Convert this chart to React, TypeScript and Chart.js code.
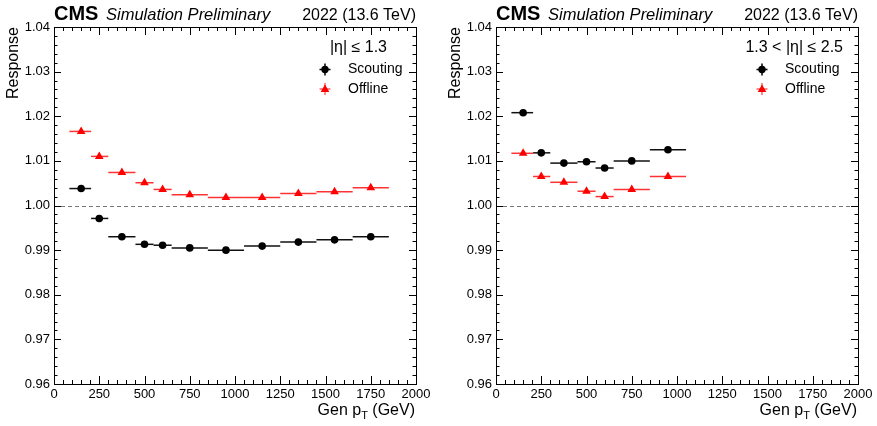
import React, { useEffect, useRef } from 'react';
import { Chart, registerables } from 'chart.js';

Chart.register(...registerables);

const FONT = "'Liberation Sans', Arial, Helvetica, sans-serif";

const X_TICKS = [0, 250, 500, 750, 1000, 1250, 1500, 1750, 2000];
const Y_TICKS = [0.96, 0.97, 0.98, 0.99, 1.0, 1.01, 1.02, 1.03, 1.04];

// Left panel: |eta| <= 1.3
const BARREL_PT = [150, 250, 375, 500, 600, 750, 950, 1150, 1350, 1550, 1750];
const BARREL_LO = [85, 205, 300, 450, 550, 650, 850, 1050, 1250, 1450, 1650];
const BARREL_HI = [205, 300, 450, 550, 650, 850, 1050, 1250, 1450, 1650, 1850];
const BARREL_SCOUTING = [1.0038, 0.9971, 0.993, 0.9913, 0.9911, 0.9905, 0.99, 0.9909, 0.9918, 0.9923, 0.993];
const BARREL_OFFLINE = [1.0166, 1.011, 1.0074, 1.0051, 1.0036, 1.0024, 1.0018, 1.0018, 1.0027, 1.0031, 1.004];

// Right panel: 1.3 < |eta| <= 2.5
const ENDCAP_PT = [150, 250, 375, 500, 600, 750, 950];
const ENDCAP_LO = [85, 205, 300, 450, 550, 650, 850];
const ENDCAP_HI = [205, 300, 450, 550, 650, 850, 1050];
const ENDCAP_SCOUTING = [1.0208, 1.0118, 1.0095, 1.0098, 1.0084, 1.01, 1.0125];
const ENDCAP_OFFLINE = [1.0117, 1.0065, 1.0052, 1.0032, 1.002, 1.0036, 1.0065];

const SERIES_NAMES = ['Scouting', 'Offline'];

type PanelCfg = {
  left: number;
  width: number;
  areaLeft: number;
  areaRight: number;
  eta: string;
  etaRight: number;
  markerX: number;
  textX: number;
  pt: number[];
  lo: number[];
  hi: number[];
  scouting: number[];
  offline: number[];
};

const PANELS: PanelCfg[] = [
  {
    left: 0, width: 438, areaLeft: 54, areaRight: 416,
    eta: '|\u03B7| \u2264 1.3', etaRight: 387, markerX: 325, textX: 348,
    pt: BARREL_PT, lo: BARREL_LO, hi: BARREL_HI, scouting: BARREL_SCOUTING, offline: BARREL_OFFLINE,
  },
  {
    left: 438, width: 439, areaLeft: 58, areaRight: 420,
    eta: '1.3 < |\u03B7| \u2264 2.5', etaRight: 405, markerX: 324, textX: 347,
    pt: ENDCAP_PT, lo: ENDCAP_LO, hi: ENDCAP_HI, scouting: ENDCAP_SCOUTING, offline: ENDCAP_OFFLINE,
  },
];

const TOP = 27;
const BOTTOM = 384;
const H = 426;

function drawTriangle(ctx: CanvasRenderingContext2D, x: number, y: number, r: number) {
  ctx.beginPath();
  for (let k = 0; k < 3; k++) {
    const a = (k * 2 * Math.PI) / 3;
    const px = x + Math.sin(a) * r;
    const py = y - Math.cos(a) * r;
    if (k === 0) ctx.moveTo(px, py);
    else ctx.lineTo(px, py);
  }
  ctx.closePath();
  ctx.fill();
}

function makePlugin(cfg: PanelCfg) {
  return {
    id: 'cmsDecor',
    beforeDatasetsDraw(chart: any) {
      const ctx: CanvasRenderingContext2D = chart.ctx;
      const xs = chart.scales.x;
      const ys = chart.scales.y;
      const area = chart.chartArea;
      ctx.save();
      ctx.strokeStyle = '#777';
      ctx.lineWidth = 1;
      ctx.setLineDash([4, 3]);
      const yr = Math.round(ys.getPixelForValue(1.0)) + 0.5;
      ctx.beginPath();
      ctx.moveTo(area.left, yr);
      ctx.lineTo(area.right, yr);
      ctx.stroke();
      ctx.setLineDash([]);
      chart.data.datasets.forEach((ds: any) => {
        ctx.strokeStyle = ds.barColor;
        ctx.lineWidth = 1.5;
        ds.data.forEach((p: any, j: number) => {
          const y = ys.getPixelForValue(p.y);
          ctx.beginPath();
          ctx.moveTo(xs.getPixelForValue(ds.xLo[j]), y);
          ctx.lineTo(xs.getPixelForValue(ds.xHi[j]), y);
          ctx.stroke();
        });
      });
      ctx.restore();
    },
    afterDraw(chart: any) {
      const ctx: CanvasRenderingContext2D = chart.ctx;
      const xs = chart.scales.x;
      const ys = chart.scales.y;
      const a = chart.chartArea;
      ctx.save();
      ctx.strokeStyle = '#000';
      ctx.lineWidth = 1;
      ctx.strokeRect(Math.round(a.left) + 0.5, Math.round(a.top) + 0.5, Math.round(a.right - a.left), Math.round(a.bottom - a.top));
      ctx.beginPath();
      for (let i = 0; i < X_TICKS.length; i++) {
        const v = X_TICKS[i];
        const px = Math.round(xs.getPixelForValue(v)) + 0.5;
        ctx.moveTo(px, a.bottom); ctx.lineTo(px, a.bottom - 8);
        ctx.moveTo(px, a.top); ctx.lineTo(px, a.top + 8);
        if (i < X_TICKS.length - 1) {
          const step = (X_TICKS[i + 1] - v) / 5;
          for (let k = 1; k < 5; k++) {
            const mx = Math.round(xs.getPixelForValue(v + k * step)) + 0.5;
            ctx.moveTo(mx, a.bottom); ctx.lineTo(mx, a.bottom - 4);
            ctx.moveTo(mx, a.top); ctx.lineTo(mx, a.top + 4);
          }
        }
      }
      for (let i = 0; i < Y_TICKS.length; i++) {
        const v = Y_TICKS[i];
        const py = Math.round(ys.getPixelForValue(v)) + 0.5;
        ctx.moveTo(a.left, py); ctx.lineTo(a.left + 7, py);
        ctx.moveTo(a.right, py); ctx.lineTo(a.right - 7, py);
        if (i < Y_TICKS.length - 1) {
          const step = (Y_TICKS[i + 1] - v) / 5;
          for (let k = 1; k < 5; k++) {
            const my = Math.round(ys.getPixelForValue(v + k * step)) + 0.5;
            ctx.moveTo(a.left, my); ctx.lineTo(a.left + 3.5, my);
            ctx.moveTo(a.right, my); ctx.lineTo(a.right - 3.5, my);
          }
        }
      }
      ctx.stroke();

      ctx.fillStyle = '#000';
      ctx.textBaseline = 'alphabetic';
      ctx.textAlign = 'left';
      ctx.font = `bold 20px ${FONT}`;
      ctx.fillText('CMS', a.left, 20);
      ctx.font = `italic 16.5px ${FONT}`;
      ctx.fillText('Simulation Preliminary', a.left + 52, 20);
      ctx.textAlign = 'right';
      ctx.font = `16px ${FONT}`;
      ctx.fillText('2022 (13.6 TeV)', a.right, 20);

      ctx.save();
      ctx.translate(a.left - 36, a.top);
      ctx.rotate(-Math.PI / 2);
      ctx.textAlign = 'right';
      ctx.font = `16px ${FONT}`;
      ctx.fillText('Response', 0, 0);
      ctx.restore();

      ctx.textAlign = 'left';
      const big = `16px ${FONT}`;
      const small = `11px ${FONT}`;
      ctx.font = big;
      const w1 = ctx.measureText('Gen p').width;
      const w3 = ctx.measureText(' (GeV)').width;
      ctx.font = small;
      const w2 = ctx.measureText('T').width;
      let x0 = a.right - 1 - (w1 + w2 + w3);
      const by = 415;
      ctx.font = big;
      ctx.fillText('Gen p', x0, by);
      x0 += w1;
      ctx.font = small;
      ctx.fillText('T', x0, by + 4);
      x0 += w2;
      ctx.font = big;
      ctx.fillText(' (GeV)', x0, by);

      ctx.textAlign = 'right';
      ctx.textBaseline = 'middle';
      ctx.font = `16px ${FONT}`;
      ctx.fillText(cfg.eta, cfg.etaRight, 47.5);

      const rows = [69.5, 89];
      ctx.strokeStyle = '#000';
      ctx.lineWidth = 1.5;
      ctx.beginPath();
      ctx.moveTo(cfg.markerX - 5.5, rows[0]); ctx.lineTo(cfg.markerX + 5.5, rows[0]);
      ctx.moveTo(cfg.markerX, rows[0] - 6); ctx.lineTo(cfg.markerX, rows[0] + 6);
      ctx.stroke();
      ctx.fillStyle = '#000';
      ctx.beginPath();
      ctx.arc(cfg.markerX, rows[0], 3.7, 0, Math.PI * 2);
      ctx.fill();
      ctx.strokeStyle = 'rgba(255,0,0,0.6)';
      ctx.beginPath();
      ctx.moveTo(cfg.markerX - 5.5, rows[1]); ctx.lineTo(cfg.markerX + 5.5, rows[1]);
      ctx.moveTo(cfg.markerX, rows[1] - 6); ctx.lineTo(cfg.markerX, rows[1] + 6);
      ctx.stroke();
      ctx.fillStyle = '#ff0000';
      drawTriangle(ctx, cfg.markerX, rows[1] + 0.5, 5);

      ctx.fillStyle = '#000';
      ctx.textAlign = 'left';
      ctx.font = `14px ${FONT}`;
      ctx.fillText(SERIES_NAMES[0], cfg.textX, rows[0]);
      ctx.fillText(SERIES_NAMES[1], cfg.textX, rows[1]);
      ctx.restore();
    },
  };
}

function Panel({ cfg }: { cfg: PanelCfg }) {
  const ref = useRef<HTMLCanvasElement>(null);
  useEffect(() => {
    const canvas = ref.current!;
    const chart = new Chart(canvas, {
      type: 'scatter',
      data: {
        datasets: [
          {
            label: SERIES_NAMES[0],
            data: cfg.pt.map((x, i) => ({ x, y: cfg.scouting[i] })),
            xLo: cfg.lo,
            xHi: cfg.hi,
            barColor: '#111',
            pointStyle: 'circle',
            pointRadius: 3.8,
            pointBorderWidth: 0,
            backgroundColor: '#000',
            borderColor: '#000',
            showLine: false,
          } as any,
          {
            label: SERIES_NAMES[1],
            data: cfg.pt.map((x, i) => ({ x, y: cfg.offline[i] })),
            xLo: cfg.lo,
            xHi: cfg.hi,
            barColor: 'rgba(255,0,0,0.8)',
            pointStyle: 'triangle',
            pointRadius: 5,
            pointBorderWidth: 0,
            backgroundColor: '#ff0000',
            borderColor: '#ff0000',
            showLine: false,
          } as any,
        ],
      },
      options: {
        responsive: false,
        animation: false,
        devicePixelRatio: 1,
        layout: { padding: { left: 0, right: cfg.width - cfg.areaRight, top: TOP, bottom: 0 } },
        plugins: { legend: { display: false }, tooltip: { enabled: false }, title: { display: false } },
        scales: {
          x: {
            type: 'linear',
            min: 0,
            max: 2000,
            afterBuildTicks: (s: any) => { s.ticks = X_TICKS.map((v) => ({ value: v })); },
            afterFit: (s: any) => { s.height = H - BOTTOM; },
            grid: { display: false, drawTicks: false },
            border: { display: false },
            ticks: {
              color: '#000',
              font: { family: FONT, size: 13 },
              padding: 3,
              maxRotation: 0,
              autoSkip: false,
              callback: (v: any) => String(v),
            },
          },
          y: {
            type: 'linear',
            min: 0.96,
            max: 1.04,
            afterBuildTicks: (s: any) => { s.ticks = Y_TICKS.map((v) => ({ value: v })); },
            afterFit: (s: any) => { s.width = cfg.areaLeft; },
            grid: { display: false, drawTicks: false },
            border: { display: false },
            ticks: {
              color: '#000',
              font: { family: FONT, size: 13 },
              padding: 4,
              autoSkip: false,
              callback: (v: any) => Number(v).toFixed(2),
            },
          },
        },
      } as any,
      plugins: [makePlugin(cfg)],
    });
    return () => chart.destroy();
  }, [cfg]);
  return (
    <canvas
      ref={ref}
      width={cfg.width}
      height={H}
      style={{ position: 'absolute', left: cfg.left, top: 0, width: cfg.width, height: H }}
    />
  );
}

export default function App() {
  useEffect(() => {
    document.body.style.margin = '0';
    document.body.style.background = '#fff';
  }, []);
  return (
    <div style={{ position: 'relative', width: 877, height: H, background: '#fff', overflow: 'hidden' }}>
      {PANELS.map((p, i) => (
        <Panel key={i} cfg={p} />
      ))}
    </div>
  );
}
